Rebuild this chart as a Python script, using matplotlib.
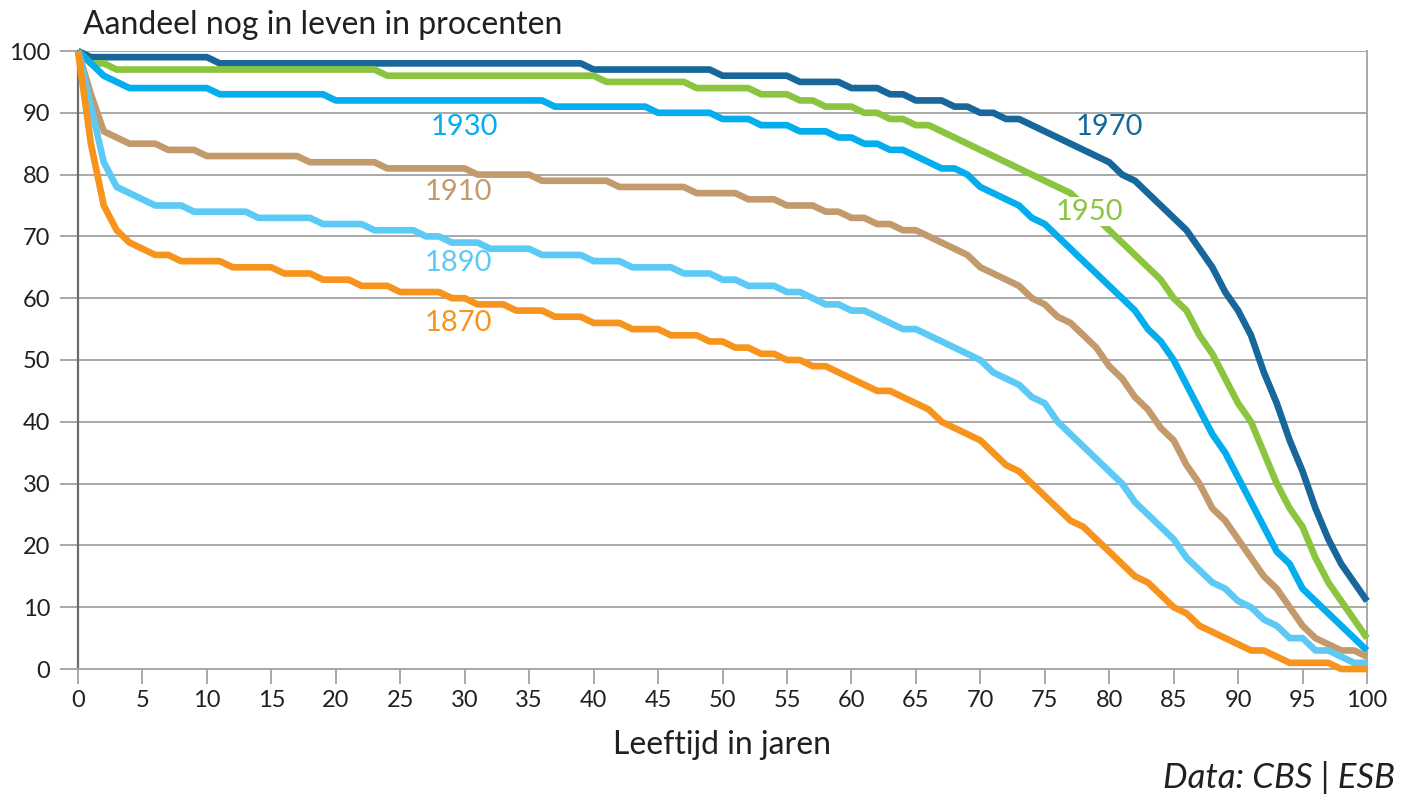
import matplotlib
matplotlib.use("Agg")
import matplotlib.pyplot as plt

plt.rcParams['font.family'] = ['Lato', 'DejaVu Sans']

ages = list(range(0, 101))

# share still alive (%) per birth cohort, read per year of age
c1970 = [100, 99, 99, 99, 99, 99, 99, 99, 99, 99,
         99, 98, 98, 98, 98, 98, 98, 98, 98, 98,
         98, 98, 98, 98, 98, 98, 98, 98, 98, 98,
         98, 98, 98, 98, 98, 98, 98, 98, 98, 98,
         97, 97, 97, 97, 97, 97, 97, 97, 97, 97,
         96, 96, 96, 96, 96, 96, 95, 95, 95, 95,
         94, 94, 94, 93, 93, 92, 92, 92, 91, 91,
         90, 90, 89, 89, 88, 87, 86, 85, 84, 83,
         82, 80, 79, 77, 75, 73, 71, 68, 65, 61,
         58, 54, 48, 43, 37, 32, 26, 21, 17, 14,
         11]
c1950 = [100, 98, 98, 97, 97, 97, 97, 97, 97, 97,
         97, 97, 97, 97, 97, 97, 97, 97, 97, 97,
         97, 97, 97, 97, 96, 96, 96, 96, 96, 96,
         96, 96, 96, 96, 96, 96, 96, 96, 96, 96,
         96, 95, 95, 95, 95, 95, 95, 95, 94, 94,
         94, 94, 94, 93, 93, 93, 92, 92, 91, 91,
         91, 90, 90, 89, 89, 88, 88, 87, 86, 85,
         84, 83, 82, 81, 80, 79, 78, 77, 75, 73,
         71, 69, 67, 65, 63, 60, 58, 54, 51, 47,
         43, 40, 35, 30, 26, 23, 18, 14, 11, 8,
         5]
c1930 = [100, 98, 96, 95, 94, 94, 94, 94, 94, 94,
         94, 93, 93, 93, 93, 93, 93, 93, 93, 93,
         92, 92, 92, 92, 92, 92, 92, 92, 92, 92,
         92, 92, 92, 92, 92, 92, 92, 91, 91, 91,
         91, 91, 91, 91, 91, 90, 90, 90, 90, 90,
         89, 89, 89, 88, 88, 88, 87, 87, 87, 86,
         86, 85, 85, 84, 84, 83, 82, 81, 81, 80,
         78, 77, 76, 75, 73, 72, 70, 68, 66, 64,
         62, 60, 58, 55, 53, 50, 46, 42, 38, 35,
         31, 27, 23, 19, 17, 13, 11, 9, 7, 5,
         3]
c1910 = [100, 93, 87, 86, 85, 85, 85, 84, 84, 84,
         83, 83, 83, 83, 83, 83, 83, 83, 82, 82,
         82, 82, 82, 82, 81, 81, 81, 81, 81, 81,
         81, 80, 80, 80, 80, 80, 79, 79, 79, 79,
         79, 79, 78, 78, 78, 78, 78, 78, 77, 77,
         77, 77, 76, 76, 76, 75, 75, 75, 74, 74,
         73, 73, 72, 72, 71, 71, 70, 69, 68, 67,
         65, 64, 63, 62, 60, 59, 57, 56, 54, 52,
         49, 47, 44, 42, 39, 37, 33, 30, 26, 24,
         21, 18, 15, 13, 10, 7, 5, 4, 3, 3,
         2]
c1890 = [100, 91, 82, 78, 77, 76, 75, 75, 75, 74,
         74, 74, 74, 74, 73, 73, 73, 73, 73, 72,
         72, 72, 72, 71, 71, 71, 71, 70, 70, 69,
         69, 69, 68, 68, 68, 68, 67, 67, 67, 67,
         66, 66, 66, 65, 65, 65, 65, 64, 64, 64,
         63, 63, 62, 62, 62, 61, 61, 60, 59, 59,
         58, 58, 57, 56, 55, 55, 54, 53, 52, 51,
         50, 48, 47, 46, 44, 43, 40, 38, 36, 34,
         32, 30, 27, 25, 23, 21, 18, 16, 14, 13,
         11, 10, 8, 7, 5, 5, 3, 3, 2, 1,
         1]
c1870 = [100, 85, 75, 71, 69, 68, 67, 67, 66, 66,
         66, 66, 65, 65, 65, 65, 64, 64, 64, 63,
         63, 63, 62, 62, 62, 61, 61, 61, 61, 60,
         60, 59, 59, 59, 58, 58, 58, 57, 57, 57,
         56, 56, 56, 55, 55, 55, 54, 54, 54, 53,
         53, 52, 52, 51, 51, 50, 50, 49, 49, 48,
         47, 46, 45, 45, 44, 43, 42, 40, 39, 38,
         37, 35, 33, 32, 30, 28, 26, 24, 23, 21,
         19, 17, 15, 14, 12, 10, 9, 7, 6, 5,
         4, 3, 3, 2, 1, 1, 1, 1, 0, 0,
         0]

cohorts = ['1970', '1950', '1930', '1910', '1890', '1870']
series = [c1970, c1950, c1930, c1910, c1890, c1870]
colors = ['#17679b', '#8bc53f', '#03adee', '#c39a6b', '#5ccaf5', '#f7941d']
# label anchor (age, percent)
label_pos = [(80, 87.7), (78.5, 74), (30, 87.7), (29.5, 77.2), (29.5, 65.7), (29.5, 56)]

grid_c = '#a8a8a8'
text_c = '#231f20'

fig = plt.figure(figsize=(14.08, 7.98), dpi=100)
ax = fig.add_axes([78 / 1408, 129 / 798, 1289 / 1408, 618 / 798])

for name, vals, col in zip(cohorts, series, colors):
    ax.plot(ages, vals, color=col, lw=4.8, clip_on=False, zorder=3,
            solid_joinstyle='round', solid_capstyle='butt')

for name, col, (lx, ly) in zip(cohorts, colors, label_pos):
    bb = dict(facecolor='white', edgecolor='none', pad=1) if name == '1950' else None
    ax.text(lx, ly, name, color=col, fontsize=21, ha='center', va='center',
            bbox=bb, zorder=4)

ax.set_xlim(0, 100)
ax.set_ylim(0, 100)
ax.set_xticks(range(0, 101, 5))
ax.set_yticks(range(0, 101, 10))
ax.grid(axis='y', color=grid_c, lw=1.4)
ax.set_axisbelow(True)
ax.tick_params(axis='y', length=13, width=1.4, color=grid_c, pad=7,
               labelsize=17, labelcolor=text_c)
ax.tick_params(axis='x', length=11, width=1.4, color=grid_c, pad=4,
               labelsize=17, labelcolor=text_c)
ax.spines['top'].set_visible(False)
ax.spines['left'].set_color('#6d6d6d')
ax.spines['left'].set_linewidth(1.6)
for s in ['bottom', 'right']:
    ax.spines[s].set_color(grid_c)
    ax.spines[s].set_linewidth(1.4)

fig.text(83 / 1408, 1 - 25 / 798, 'Aandeel nog in leven in procenten',
         ha='left', va='center', fontsize=23, color=text_c)
fig.text(722 / 1408, 1 - 745 / 798, 'Leeftijd in jaren',
         ha='center', va='center', fontsize=23, color=text_c)
fig.text(1395 / 1408, 1 - 778 / 798, 'Data: CBS | ESB',
         ha='right', va='center', fontsize=25, style='italic', color=text_c)

fig.savefig('out.png', dpi=100)
